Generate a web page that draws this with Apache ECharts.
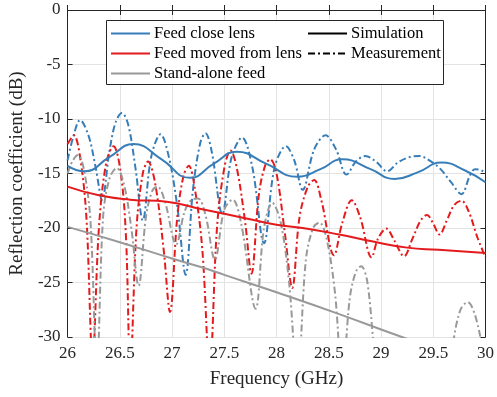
<!DOCTYPE html>
<html>
<head>
<meta charset="utf-8">
<script src="https://cdn.jsdelivr.net/npm/echarts@6/dist/echarts.min.js"></script>
<style>html,body{margin:0;padding:0;background:#fff}#c{width:497px;height:397px}</style>
</head>
<body>
<div id="c"></div>
<script>
// ---- data (frequency in GHz, reflection coefficient in dB) ----
const xTicks = [26, 26.5, 27, 27.5, 28, 28.5, 29, 29.5, 30];
const yTicks = [0, -5, -10, -15, -20, -25, -30];

const fBlueSim = [26.0, 26.16, 26.4, 26.63, 26.9, 27.17, 27.4, 27.62, 27.9, 28.2, 28.42, 28.63, 28.9, 29.13, 29.35, 29.58, 29.8, 30.0];
const vBlueSim = [-14.3, -14.8, -13.5, -12.3, -13.7, -15.4, -14.1, -13.0, -14.1, -15.3, -14.6, -13.7, -14.6, -15.5, -14.9, -14.0, -14.7, -15.8];

const fRedSim = [26.0, 26.3, 26.6, 26.95, 27.3, 27.7, 28.0, 28.25, 28.6, 28.9, 29.25, 29.55, 30.0];
const vRedSim = [-16.2, -17.0, -17.4, -17.6, -18.3, -19.1, -19.7, -20.0, -20.6, -21.2, -21.8, -22.0, -22.3];

const fGraySim = [26.0, 26.5, 27.0, 27.3, 27.5, 28.0, 28.6, 29.2, 30.0];
const vGraySim = [-19.9, -21.3, -22.8, -23.65, -24.3, -25.9, -27.9, -30.0, -32.6];

const fBlueMeas = [26.0, 26.05, 26.12, 26.2, 26.27, 26.33, 26.4, 26.46, 26.52, 26.58, 26.65, 26.72, 26.8, 26.89, 26.97, 27.05, 27.13, 27.2, 27.27, 27.32, 27.38, 27.48, 27.57, 27.67, 27.77, 27.88, 27.98, 28.09, 28.17, 28.25, 28.36, 28.47, 28.57, 28.67, 28.76, 28.85, 28.95, 29.06, 29.16, 29.27, 29.37, 29.47, 29.57, 29.67, 29.77, 29.85, 29.9, 29.96, 30.0];
const vBlueMeas = [-13.8, -11.8, -10.1, -11.5, -14.5, -17.4, -13.0, -10.3, -9.45, -10.5, -14.5, -19.3, -13.5, -11.4, -13.5, -18.0, -24.3, -16.5, -12.2, -11.3, -13.0, -18.7, -13.5, -11.7, -14.5, -21.4, -14.5, -12.5, -13.8, -16.5, -12.8, -11.5, -12.8, -15.1, -13.9, -13.4, -13.9, -14.8, -14.0, -13.5, -13.4, -13.85, -14.6, -15.8, -16.9, -15.2, -14.6, -14.7, -15.0];

const fRedMeas = [26.0, 26.06, 26.12, 26.18, 26.24, 26.3, 26.37, 26.44, 26.51, 26.56, 26.6, 26.66, 26.72, 26.77, 26.84, 26.92, 26.98, 27.05, 27.11, 27.16, 27.22, 27.29, 27.36, 27.43, 27.5, 27.56, 27.62, 27.7, 27.76, 27.83, 27.89, 27.94, 28.0, 28.08, 28.15, 28.22, 28.3, 28.36, 28.43, 28.55, 28.63, 28.72, 28.8, 28.91, 28.97, 29.05, 29.13, 29.22, 29.3, 29.38, 29.44, 29.5, 29.56, 29.63, 29.7, 29.77, 29.84, 29.92, 30.0];
const vRedMeas = [-12.3, -11.5, -13.5, -19.0, -32.0, -20.0, -14.0, -12.5, -15.0, -21.0, -33.0, -20.0, -15.0, -13.9, -16.0, -22.0, -27.7, -19.0, -15.2, -14.3, -16.5, -22.0, -33.0, -20.0, -14.5, -12.9, -14.5, -19.5, -24.2, -17.0, -14.3, -13.7, -15.0, -20.5, -25.5, -19.0, -16.2, -15.6, -17.5, -22.5, -19.5, -17.45, -19.0, -22.7, -21.0, -20.05, -21.2, -22.6, -21.0, -19.3, -18.8, -19.6, -20.6, -19.3, -17.9, -17.5, -18.5, -20.8, -22.7];

const fGrayMeas = [26.0, 26.05, 26.1, 26.16, 26.22, 26.28, 26.34, 26.4, 26.47, 26.54, 26.61, 26.68, 26.75, 26.81, 26.86, 26.93, 27.04, 27.12, 27.19, 27.25, 27.32, 27.41, 27.5, 27.58, 27.66, 27.8, 27.88, 27.96, 28.04, 28.12, 28.2, 28.28, 28.35, 28.41, 28.48, 28.56, 28.63, 28.7, 28.76, 28.81, 28.87, 28.97, 29.1, 29.4, 29.6, 29.69, 29.76, 29.83, 29.9, 29.97, 30.0];
const vGrayMeas = [-15.0, -13.8, -13.3, -14.8, -19.5, -33.0, -19.0, -15.5, -14.5, -16.0, -20.0, -25.3, -19.0, -16.6, -16.2, -17.5, -21.5, -18.5, -17.4, -17.3, -18.8, -22.9, -18.3, -17.4, -19.5, -27.4, -20.0, -17.7, -19.5, -25.0, -34.0, -23.0, -20.0, -19.5, -21.0, -26.0, -34.0, -26.5, -24.0, -23.5, -25.0, -34.0, -38.0, -40.0, -36.0, -30.5, -27.5, -26.8, -28.0, -31.0, -33.0];

const legendCol1 = ['Feed close lens', 'Feed moved from lens', 'Stand-alone feed'];
const legendCol2 = ['Simulation', 'Measurement'];

// ---- styling ----
const BLUE = '#377eb8', RED = '#e41a1c', GRAY = '#999999';
const FONT = '"Liberation Serif", "Times New Roman", serif';
const DASHDOT = [7, 3, 2, 3];
const pairs = (f, v) => f.map((x, i) => [x, v[i]]);

function line(name, f, v, color, dashed) {
  return {
    name: name, type: 'line', data: pairs(f, v),
    smooth: dashed ? 0.35 : true, symbol: 'none', clip: true,
    lineStyle: { color: color, width: 2, type: dashed ? DASHDOT : 'solid' },
    itemStyle: { color: color }, z: dashed ? 2 : 3,
    emphasis: { disabled: true }, animation: false
  };
}

const chart = echarts.init(document.getElementById('c'), null, { renderer: 'canvas' });
const axisCommon = {
  type: 'value',
  axisLine: { show: true, lineStyle: { color: '#262626', width: 1 } },
  axisTick: { show: true, inside: true, length: 5, lineStyle: { color: '#262626' } }
};
const legendCommon = {
  orient: 'vertical', top: 25, itemWidth: 39, itemHeight: 12, itemGap: 3, padding: 0,
  itemStyle: { opacity: 0, borderWidth: 0 },
  textStyle: { fontFamily: FONT, fontSize: 16.5, color: '#000', padding: [0, 0, 0, -1] },
  selectedMode: false, z: 101
};
chart.setOption({
  animation: false,
  backgroundColor: '#fff',
  grid: { left: 62, right: 9, top: 10, bottom: 60, containLabel: false },
  xAxis: [
    Object.assign({}, axisCommon, {
      min: xTicks[0], max: xTicks[xTicks.length - 1], interval: 0.5, position: 'bottom',
      name: 'Frequency (GHz)', nameLocation: 'middle', nameGap: 33,
      nameTextStyle: { fontFamily: FONT, fontSize: 19, color: '#262626' },
      axisLabel: { fontFamily: FONT, fontSize: 17, color: '#262626', margin: 8,
        formatter: v => String(v) },
      splitLine: { show: true, lineStyle: { color: '#e3e3e3', width: 1 } }
    }),
    Object.assign({}, axisCommon, {
      min: xTicks[0], max: xTicks[xTicks.length - 1], interval: 0.5, position: 'top',
      axisLabel: { show: false }, splitLine: { show: false }
    })
  ],
  yAxis: [
    Object.assign({}, axisCommon, {
      min: yTicks[yTicks.length - 1], max: yTicks[0], interval: 5, position: 'left',
      name: 'Reflection coefficient (dB)', nameLocation: 'middle', nameGap: 35, nameRotate: 90,
      nameTextStyle: { fontFamily: FONT, fontSize: 19, color: '#262626' },
      axisLabel: { fontFamily: FONT, fontSize: 17, color: '#262626', margin: 7 },
      splitLine: { show: true, lineStyle: { color: '#e3e3e3', width: 1 } }
    }),
    Object.assign({}, axisCommon, {
      min: yTicks[yTicks.length - 1], max: yTicks[0], interval: 5, position: 'right',
      axisLabel: { show: false }, splitLine: { show: false }
    })
  ],
  graphic: [{
    type: 'rect', left: 106, top: 20, z: 100,
    shape: { width: 337, height: 64 },
    style: { fill: '#fff', stroke: '#262626', lineWidth: 1 }
  }],
  legend: [
    Object.assign({}, legendCommon, { data: legendCol1, left: 110 }),
    Object.assign({}, legendCommon, { data: legendCol2, left: 307 })
  ],
  series: [
    line('Feed close lens (meas)', fBlueMeas, vBlueMeas, BLUE, true),
    line('Feed moved from lens (meas)', fRedMeas, vRedMeas, RED, true),
    line('Stand-alone feed (meas)', fGrayMeas, vGrayMeas, GRAY, true),
    line('Feed close lens', fBlueSim, vBlueSim, BLUE, false),
    line('Feed moved from lens', fRedSim, vRedSim, RED, false),
    line('Stand-alone feed', fGraySim, vGraySim, GRAY, false),
    { name: 'Simulation', type: 'line', data: [], symbol: 'none', lineStyle: { color: '#000', width: 2, type: 'solid' }, itemStyle: { color: '#000' } },
    { name: 'Measurement', type: 'line', data: [], symbol: 'none', lineStyle: { color: '#000', width: 2, type: DASHDOT }, itemStyle: { color: '#000' } }
  ]
});
</script>
</body>
</html>
